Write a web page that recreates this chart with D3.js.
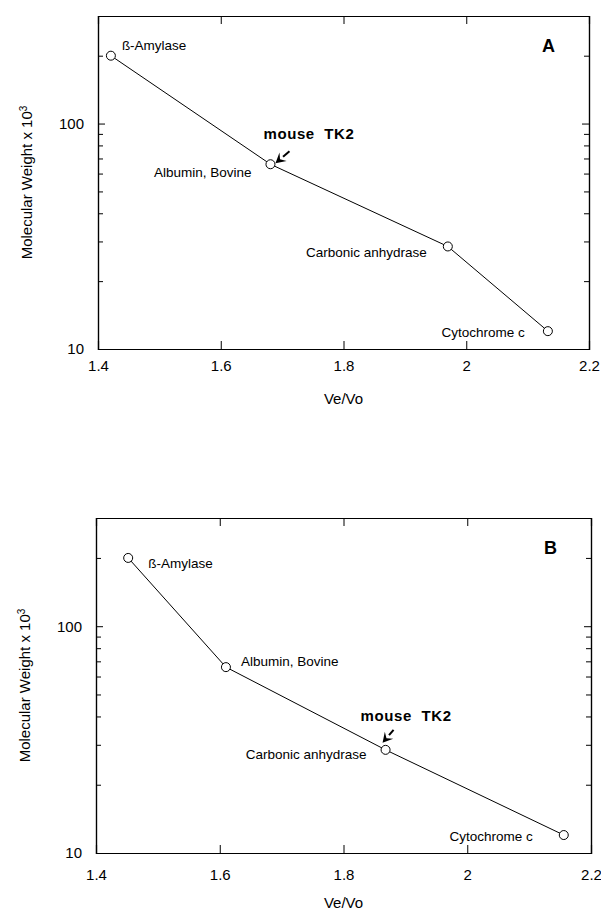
<!DOCTYPE html>
<html>
<head>
<meta charset="utf-8">
<script src="https://cdn.jsdelivr.net/npm/d3@7"></script>
<style>
  body { margin: 0; background: #fff; }
  svg text { font-family: "Liberation Sans", Arial, Helvetica, sans-serif; fill: #000; }
</style>
</head>
<body>
<svg id="chart" width="601" height="911"></svg>
<script>
// protein standards
var proteins = ["\u00DF-Amylase", "Albumin, Bovine", "Carbonic anhydrase", "Cytochrome c"];
var mwA = [200, 66, 28.5, 12];
var veA = [1.421, 1.681, 1.970, 2.133];
var mwB = [200, 66, 28.5, 12];
var veB = [1.452, 1.610, 1.868, 2.156];

var xTicks = [1.4, 1.6, 1.8, 2.0, 2.2];
var yMajor = [10, 100];
var yMinor = [20, 30, 40, 50, 60, 70, 80, 90, 200];

var svg = d3.select("#chart");

// label offsets from each point: [dx, dy, anchor]
var labA = [[11, -6, "start"], [-19, 13, "end"], [-21, 11, "end"], [-23, 6, "end"]];
var labB = [[20, 10, "start"], [15, -1, "start"], [-19, 9, "end"], [-31, 6, "end"]];

drawPanel({
    left: 98, right: 589, top: 16, bottom: 349,
    ve: veA, mw: mwA, labels: labA, letter: "A",
    tk2: 1, tk2Text: [-7, -25], arrow: [[19, -13], [5, -1]],
    xLabPad: 11
});
drawPanel({
    left: 96, right: 591, top: 518, bottom: 853,
    ve: veB, mw: mwB, labels: labB, letter: "B",
    tk2: 2, tk2Text: [-25, -29], arrow: [[8, -20], [-3, -7]],
    xLabPad: 16
});

function drawPanel(c) {
    var w = c.right - c.left;
    var h = c.bottom - c.top;
    var g = svg.append("g").attr("transform", "translate(" + c.left + "," + c.top + ")");

    var x = d3.scaleLinear().domain([1.4, 2.2]).range([0, w]);
    var y = d3.scaleLog().domain([10, 300]).range([h, 0]);

    // bottom axis
    g.append("g")
        .attr("transform", "translate(0," + h + ")")
        .call(d3.axisBottom(x).tickValues(xTicks).tickSize(-8).tickPadding(c.xLabPad)
            .tickFormat(d3.format("~g")))
        .call(styleAxis);
    // top axis
    g.append("g")
        .call(d3.axisTop(x).tickValues(xTicks).tickSize(-8).tickFormat(""))
        .call(styleAxis);
    // left axis
    g.append("g")
        .call(d3.axisLeft(y).tickValues(yMajor).tickSize(-7).tickPadding(14)
            .tickFormat(d3.format("d")))
        .call(styleAxis);
    g.append("g")
        .call(d3.axisLeft(y).tickValues(yMinor).tickSize(-5).tickFormat(""))
        .call(styleAxis);
    // right axis
    g.append("g")
        .attr("transform", "translate(" + w + ",0)")
        .call(d3.axisRight(y).tickValues(yMajor).tickSize(-7).tickFormat(""))
        .call(styleAxis);
    g.append("g")
        .attr("transform", "translate(" + w + ",0)")
        .call(d3.axisRight(y).tickValues(yMinor).tickSize(-5).tickFormat(""))
        .call(styleAxis);

    // axis titles
    g.append("text")
        .attr("x", w / 2)
        .attr("y", h + 55)
        .attr("text-anchor", "middle")
        .style("font-size", "15px")
        .text("Ve/Vo");

    var yt = g.append("text")
        .attr("transform", "translate(-66," + (h / 2) + ") rotate(-90)")
        .attr("text-anchor", "middle")
        .style("font-size", "15px");
    yt.append("tspan").text("Molecular Weight x 10");
    yt.append("tspan").attr("dy", "-0.5em").style("font-size", "10px").text("3");

    // line + points
    var pts = c.ve.map(function(v, i) { return [x(v), y(c.mw[i])]; });
    g.append("path")
        .attr("d", d3.line()(pts))
        .attr("fill", "none")
        .attr("stroke", "#000")
        .attr("stroke-width", 1);

    g.selectAll("circle.pt")
        .data(pts)
        .enter().append("circle")
        .attr("class", "pt")
        .attr("cx", function(d) { return d[0]; })
        .attr("cy", function(d) { return d[1]; })
        .attr("r", 4.5)
        .attr("fill", "#fff")
        .attr("stroke", "#000")
        .attr("stroke-width", 1);

    // protein labels
    g.selectAll("text.lab")
        .data(pts)
        .enter().append("text")
        .attr("class", "lab")
        .attr("x", function(d, i) { return d[0] + c.labels[i][0]; })
        .attr("y", function(d, i) { return d[1] + c.labels[i][1]; })
        .attr("text-anchor", function(d, i) { return c.labels[i][2]; })
        .style("font-size", "13.5px")
        .text(function(d, i) { return proteins[i]; });

    // mouse TK2 marker
    var p = pts[c.tk2];
    g.append("text")
        .attr("x", p[0] + c.tk2Text[0])
        .attr("y", p[1] + c.tk2Text[1])
        .style("font-size", "15px")
        .style("font-weight", "bold")
        .style("letter-spacing", "0.6px")
        .attr("xml:space", "preserve")
        .text("mouse  TK2");

    var x0 = p[0] + c.arrow[0][0], y0 = p[1] + c.arrow[0][1];
    var x1 = p[0] + c.arrow[1][0], y1 = p[1] + c.arrow[1][1];
    var ang = Math.atan2(y1 - y0, x1 - x0);
    var hl = 10, hw = 5.5;
    var bx = x1 - hl * Math.cos(ang), by = y1 - hl * Math.sin(ang);
    g.append("line")
        .attr("x1", x0).attr("y1", y0).attr("x2", bx).attr("y2", by)
        .attr("stroke", "#000").attr("stroke-width", 2);
    g.append("path")
        .attr("d", "M" + x1 + "," + y1 +
            "L" + (bx + hw * Math.sin(ang)) + "," + (by - hw * Math.cos(ang)) +
            "L" + (x1 - 6 * Math.cos(ang)) + "," + (y1 - 6 * Math.sin(ang)) +
            "L" + (bx - hw * Math.sin(ang)) + "," + (by + hw * Math.cos(ang)) + "Z")
        .attr("fill", "#000");

    // panel letter
    g.append("text")
        .attr("x", w - 47)
        .attr("y", 36)
        .style("font-size", "18px")
        .style("font-weight", "bold")
        .text(c.letter);
}

function styleAxis(sel) {
    sel.select(".domain").attr("stroke", "#000").attr("stroke-width", 1.2);
    sel.selectAll(".tick line").attr("stroke", "#000").attr("stroke-width", 1);
    sel.selectAll(".tick text").style("font-size", "15px").attr("fill", "#000");
    sel.attr("font-family", null).attr("font-size", null);
}
</script>
</body>
</html>
